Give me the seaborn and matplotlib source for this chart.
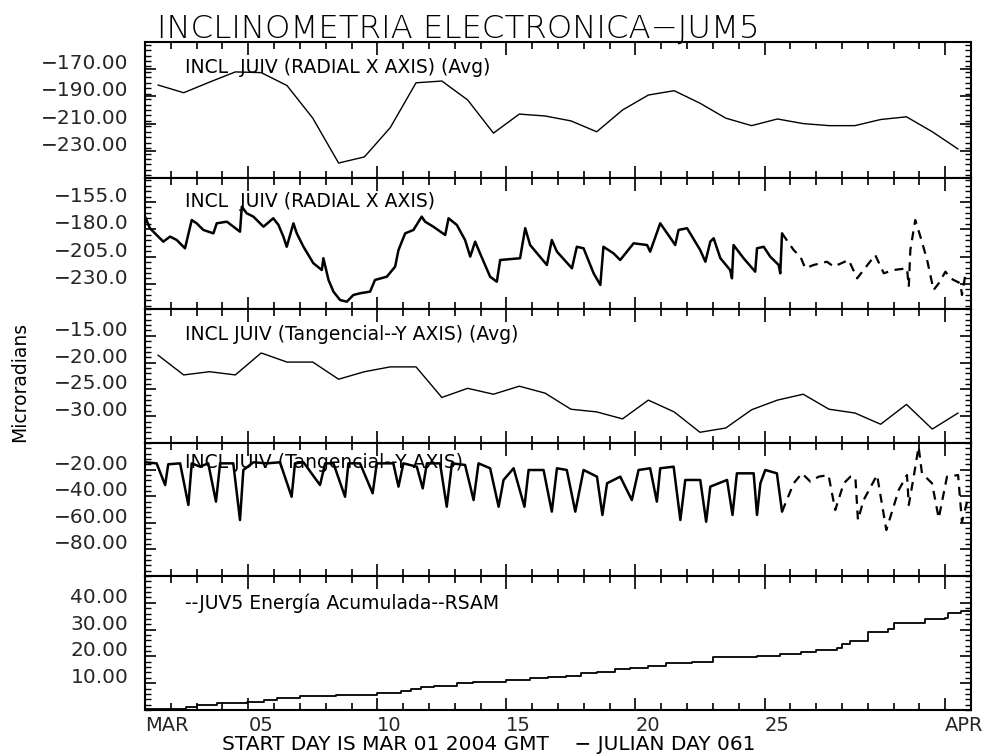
import numpy as np
import pandas as pd
import matplotlib
matplotlib.use("Agg")
import matplotlib.pyplot as plt
from matplotlib.ticker import FixedLocator, MultipleLocator
import seaborn as sns

# ---------------- data (days since MAR 01 2004 00:00 GMT) ----------------
avg_days = [d + 0.5 for d in range(32)]
radial_avg = [-181.6, -187.3, -179.5, -172.0, -172.5, -182.0, -206.0, -239.0,
              -234.5, -213.0, -180.0, -178.7, -192.6, -217.0, -203.0, -204.4,
              -208.0, -216.0, -200.0, -189.0, -185.8, -195.0, -206.0, -211.5,
              -206.6, -210.0, -211.5, -211.5, -207.0, -205.0, -216.0, -228.7]
tang_avg = [-18.6, -22.3, -21.7, -22.3, -18.2, -19.9, -19.9, -23.1, -21.7, -20.8,
            -20.8, -26.5, -24.8, -25.9, -24.4, -25.7, -28.7, -29.2, -30.5, -27.0,
            -29.2, -33.0, -32.2, -28.8, -27.0, -25.9, -28.7, -29.4, -31.5, -27.8,
            -32.4, -29.4]

radial_days = [0.00, 0.19, 0.45, 0.71, 0.97, 1.23, 1.55, 1.81, 2.00, 2.26, 2.65, 2.78,
               3.17, 3.68, 3.75, 3.94, 4.20, 4.59, 4.97, 5.17, 5.36, 5.49, 5.75, 5.88,
               6.14, 6.52, 6.85, 6.91, 7.11, 7.30, 7.56, 7.82, 8.07, 8.33, 8.72, 8.91,
               9.37, 9.69, 9.82, 10.08, 10.40, 10.72, 10.85, 11.17, 11.63, 11.76, 12.08,
               12.40, 12.60, 12.79, 12.98, 13.37, 13.63, 13.76, 14.53, 14.73, 14.92,
               15.57, 15.76, 15.96, 16.54, 16.73, 16.99, 17.38, 17.64, 17.76, 18.15,
               18.41, 18.93, 19.45, 19.57, 19.96, 20.41, 20.54, 20.67, 21.00, 21.51,
               21.71, 21.90, 22.03, 22.29, 22.67, 22.74, 22.80, 23.19, 23.64, 23.71,
               23.97, 24.22, 24.55, 24.61, 24.68]
radial_vals = [-168.4, -179.0, -185.2, -191.3, -186.7, -189.8, -197.4, -171.5, -174.5,
               -180.6, -183.7, -174.5, -173.0, -182.2, -159.3, -165.3, -168.4, -177.6,
               -169.9, -176.0, -186.7, -196.0, -174.5, -183.7, -196.0, -211.0, -217.3,
               -206.5, -226.4, -237.1, -244.8, -246.3, -240.2, -238.6, -237.1, -226.4,
               -223.4, -214.2, -199.0, -183.7, -180.6, -168.4, -173.0, -177.6, -185.2,
               -169.9, -176.0, -189.8, -205.0, -191.3, -202.0, -223.4, -228.0, -208.1,
               -206.5, -179.0, -194.4, -212.7, -189.8, -200.5, -215.7, -196.0, -197.4,
               -220.3, -231.0, -196.0, -202.0, -208.1, -192.8, -194.4, -200.5, -174.5,
               -189.8, -194.4, -180.6, -179.0, -199.0, -209.7, -191.3, -188.2, -206.5,
               -217.3, -224.9, -194.4, -206.5, -218.8, -197.4, -196.0, -205.0, -212.7,
               -220.3, -183.7]
radial_gap_days = [24.68, 25.13, 25.39, 25.58, 25.90, 26.42, 26.68, 27.26, 27.59, 28.29,
                   28.62, 29.00, 29.52, 29.59, 29.65, 29.84, 30.04, 30.30, 30.55, 30.75,
                   31.01, 31.20, 31.59, 31.65, 31.78]
radial_gap_vals = [-183.7, -199.0, -205.0, -215.7, -212.7, -209.7, -214.2, -208.1, -224.9,
                   -203.5, -220.3, -217.3, -215.7, -232.6, -199.0, -171.5, -186.7, -208.1,
                   -235.6, -229.5, -218.8, -224.9, -229.5, -240.2, -221.9]

tang_days = [0.00, 0.45, 0.78, 0.90, 1.36, 1.68, 1.81, 2.13, 2.45, 2.75, 2.91, 3.42, 3.68,
             3.81, 4.20, 4.72, 5.23, 5.68, 5.81, 6.14, 6.78, 6.98, 7.30, 7.75, 7.88, 8.33,
             8.82, 8.98, 9.62, 9.82, 10.01, 10.53, 10.76, 10.92, 11.43, 11.69, 11.89,
             12.40, 12.73, 12.92, 13.37, 13.70, 13.89, 14.28, 14.70, 14.86, 15.44, 15.76,
             15.96, 16.34, 16.67, 16.99, 17.51, 17.72, 17.90, 18.41, 18.86, 19.12, 19.57,
             19.83, 19.96, 20.48, 20.74, 20.93, 21.51, 21.74, 21.90, 22.55, 22.76, 22.93,
             23.58, 23.71, 23.84, 24.03, 24.48, 24.68]
tang_vals = [-14.5, -15.3, -31.6, -16.0, -15.3, -46.6, -15.3, -17.8, -15.3, -44.1, -15.3,
             -15.3, -57.9, -20.3, -14.5, -15.3, -14.5, -40.4, -15.3, -14.5, -31.6, -15.3,
             -15.3, -40.4, -15.3, -15.3, -37.8, -15.3, -15.3, -32.8, -15.3, -17.8, -34.1,
             -15.3, -15.3, -47.9, -15.3, -16.5, -42.9, -15.3, -19.0, -47.9, -27.8, -19.0,
             -47.9, -20.3, -20.3, -51.6, -19.0, -20.3, -51.6, -20.3, -25.3, -54.1, -30.3,
             -25.3, -42.9, -20.3, -19.0, -44.1, -19.0, -17.8, -57.9, -27.8, -27.8, -59.2,
             -32.8, -27.8, -54.1, -22.8, -22.8, -54.1, -30.3, -20.3, -22.8, -51.6]
tang_gap_days = [24.68, 25.13, 25.45, 25.78, 26.10, 26.48, 26.74, 27.07, 27.33, 27.52,
                 27.62, 27.84, 28.36, 28.72, 29.20, 29.52, 29.59, 29.78, 29.97, 30.10,
                 30.49, 30.75, 31.07, 31.50, 31.65, 31.85]
tang_gap_vals = [-51.6, -30.3, -22.8, -29.1, -25.3, -24.1, -50.4, -30.3, -25.3, -25.6,
                 -57.9, -42.9, -24.1, -65.4, -35.3, -24.1, -46.6, -25.3, -2.8, -22.8,
                 -30.3, -56.6, -25.3, -24.1, -59.2, -44.1]

rsam_days = [0.0, 1.6, 2.0, 2.8, 3.95, 4.6, 5.1, 6.0, 7.4, 9.0, 9.9, 10.3, 10.7, 11.2,
             12.1, 12.7, 14.0, 14.9, 15.6, 16.3, 16.9, 17.5, 18.2, 18.8, 19.5, 20.2, 21.2,
             22.0, 23.7, 24.6, 25.4, 26.0, 26.8, 27.0, 27.3, 28.0, 28.8, 29.0, 29.8, 30.2,
             31.0, 31.1, 31.6, 31.95]
rsam_vals = [0.2, 1.2, 1.7, 2.6, 3.1, 3.7, 4.6, 5.2, 5.6, 6.2, 7.1, 7.8, 8.6, 9.1, 10.0,
             10.6, 11.2, 11.8, 12.4, 12.7, 13.7, 14.3, 15.2, 15.8, 16.5, 17.4, 18.0, 19.7,
             20.1, 20.8, 21.8, 22.4, 23.2, 24.6, 25.9, 29.2, 30.1, 32.4, 32.6, 33.8, 34.2,
             36.3, 37.1, 37.1]

xtick_major = [0, 4, 9, 14, 19, 24, 31]
xtick_labels = ["MAR", "05", "10", "15", "20", "25", "APR"]

panel_titles = ["INCL  JUIV (RADIAL X AXIS) (Avg)",
                "INCL  JUIV (RADIAL X AXIS)",
                "INCL JUIV (Tangencial--Y AXIS) (Avg)",
                "INCL JUIV (Tangencial--Y AXIS)",
                "--JUV5 Energía Acumulada--RSAM"]
ytick_sets = [[-230, -210, -190, -170], [-230, -205, -180, -155],
              [-30, -25, -20, -15], [-80, -60, -40, -20], [10, 20, 30, 40]]
ytick_fmt = ["{:.2f}", "{:.1f}", "{:.2f}", "{:.2f}", "{:.2f}"]

# ---------------- styling / layout ----------------
sns.set_style("ticks")
plt.rcParams["font.family"] = ["DejaVu Sans"]

W, H = 984, 756
fig = plt.figure(figsize=(W / 100, H / 100), dpi=100)

left_px, right_px = 145, 971
bounds = [(42, 178), (178, 309), (309, 443), (443, 576), (576, 710)]
ylims = [(-250, -150), (-253, -133), (-35, -10), (-100, 0), (0, 50)]
minor_steps = [4, 5, 1, 4, 2]
text_y = [0.81, 0.817, 0.806, 0.85, 0.80]

axes = []
for i, (t, b) in enumerate(bounds):
    ax = fig.add_axes([left_px / W, 1 - b / H, (right_px - left_px) / W, (b - t) / H])
    axes.append(ax)

def k(d, v):
    return pd.DataFrame({"day": d, "val": v})

lk = dict(color="black", estimator=None, sort=False, legend=False)
sns.lineplot(data=k(avg_days, radial_avg), x="day", y="val", ax=axes[0], lw=1.0, **lk)
sns.lineplot(data=k(radial_days, radial_vals), x="day", y="val", ax=axes[1], lw=1.8, **lk)
sns.lineplot(data=k(radial_gap_days, radial_gap_vals), x="day", y="val", ax=axes[1],
             lw=1.6, dashes=False, linestyle=(0, (4, 3)), **lk)
sns.lineplot(data=k(avg_days, tang_avg), x="day", y="val", ax=axes[2], lw=1.0, **lk)
sns.lineplot(data=k(tang_days, tang_vals), x="day", y="val", ax=axes[3], lw=1.8, **lk)
sns.lineplot(data=k(tang_gap_days, tang_gap_vals), x="day", y="val", ax=axes[3],
             lw=1.6, dashes=False, linestyle=(0, (4, 3)), **lk)
sns.lineplot(data=k(rsam_days, rsam_vals), x="day", y="val", ax=axes[4], lw=1.3,
             drawstyle="steps-post", **lk)

for i, ax in enumerate(axes):
    ax.set_xlim(0, 32)
    ax.set_ylim(*ylims[i])
    ax.set_xlabel("")
    ax.set_ylabel("")
    ax.xaxis.set_major_locator(FixedLocator(xtick_major))
    ax.xaxis.set_minor_locator(FixedLocator([d for d in range(1, 32) if d not in xtick_major]))
    ax.yaxis.set_major_locator(FixedLocator(ytick_sets[i]))
    ax.yaxis.set_minor_locator(MultipleLocator(minor_steps[i]))
    # labels sit slightly above their ticks, as in the reference
    ax.set_yticklabels([ytick_fmt[i].format(v).replace("-", "\u2212") for v in ytick_sets[i]],
                       fontsize=14.5, va="baseline")
    ax.tick_params(axis="both", which="both", direction="in", top=True, right=True,
                   color="black")
    ax.tick_params(axis="x", which="major", length=9, width=1.2)
    ax.tick_params(axis="x", which="minor", length=5, width=1.2)
    ax.tick_params(axis="y", which="major", length=8, width=1.2, pad=12)
    ax.tick_params(axis="y", which="minor", length=4, width=1.0)
    for sp in ax.spines.values():
        sp.set_linewidth(1.5)
        sp.set_color("black")
    ax.text(0.048, text_y[i], panel_titles[i], transform=ax.transAxes,
            fontsize=13.5, va="center", ha="left", color="black")
    if i < 4:
        ax.set_xticklabels([])
    else:
        ax.set_xticklabels(xtick_labels, fontsize=14, ha="left")
        ax.tick_params(axis="x", which="major", pad=4)

fig.text(157 / W, 1 - 38 / H, "INCLINOMETRIA ELECTRONICA\u2212JUM5", fontsize=23.3,
         fontweight="light", ha="left", va="baseline", color="black")
fig.text(20 / W, 1 - 382 / H, "Microradians", rotation=90, fontsize=13.5,
         ha="center", va="center", color="black")
fig.text(222 / W, 1 - 745 / H, "START DAY IS MAR 01 2004 GMT    \u2212 JULIAN DAY 061",
         fontsize=14.5, ha="left", va="center", color="black")

fig.savefig("out.png", dpi=100, facecolor="white")
